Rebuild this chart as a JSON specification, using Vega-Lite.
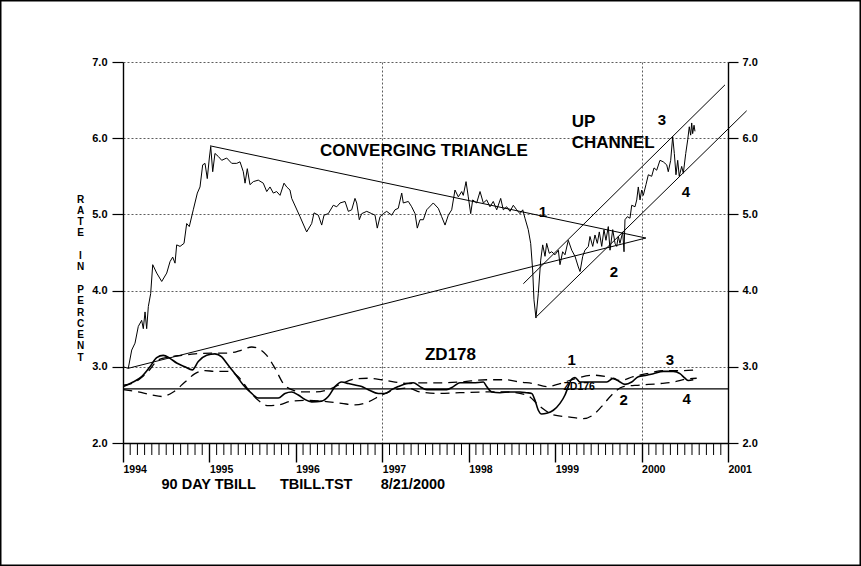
{
  "$schema": "https://vega.github.io/schema/vega-lite/v6.json",
  "width": 605,
  "height": 381,
  "autosize": {"type": "none"},
  "padding": {"left": 123, "top": 62, "right": 133, "bottom": 123},
  "background": "white",
  "config": {
    "view": {"stroke": null},
    "font": "Liberation Sans",
    "axis": {"labelFont": "Liberation Sans", "titleFont": "Liberation Sans", "labelColor": "black", "titleColor": "black", "tickColor": "black", "domainColor": "black"}
  },
  "datasets": {
    "price": [
      {"t":1994.003,"v":3.00},{"t":1994.061,"v":2.98},{"t":1994.101,"v":3.22},{"t":1994.139,"v":3.31},{"t":1994.177,"v":3.53},{"t":1994.216,"v":3.61},{"t":1994.235,"v":3.50},{"t":1994.255,"v":3.72},{"t":1994.274,"v":3.50},{"t":1994.293,"v":3.79},{"t":1994.320,"v":3.96},{"t":1994.344,"v":4.34},{"t":1994.390,"v":4.23},{"t":1994.448,"v":4.12},{"t":1994.506,"v":4.23},{"t":1994.544,"v":4.38},{"t":1994.575,"v":4.44},{"t":1994.602,"v":4.36},{"t":1994.621,"v":4.60},{"t":1994.660,"v":4.58},{"t":1994.706,"v":4.62},{"t":1994.737,"v":4.88},{"t":1994.767,"v":4.84},{"t":1994.813,"v":5.06},{"t":1994.860,"v":5.28},{"t":1994.891,"v":5.36},{"t":1994.922,"v":5.65},{"t":1994.949,"v":5.67},{"t":1994.975,"v":5.47},{"t":1994.999,"v":5.74},{"t":1995.015,"v":5.89},{"t":1995.038,"v":5.56},{"t":1995.064,"v":5.80},{"t":1995.103,"v":5.76},{"t":1995.142,"v":5.71},{"t":1995.200,"v":5.74},{"t":1995.258,"v":5.67},{"t":1995.316,"v":5.67},{"t":1995.354,"v":5.69},{"t":1995.392,"v":5.56},{"t":1995.412,"v":5.41},{"t":1995.438,"v":5.60},{"t":1995.469,"v":5.39},{"t":1995.508,"v":5.43},{"t":1995.565,"v":5.45},{"t":1995.623,"v":5.41},{"t":1995.663,"v":5.30},{"t":1995.701,"v":5.36},{"t":1995.739,"v":5.28},{"t":1995.778,"v":5.30},{"t":1995.817,"v":5.25},{"t":1995.863,"v":5.41},{"t":1995.894,"v":5.36},{"t":1995.932,"v":5.32},{"t":1995.952,"v":5.21},{"t":1996.048,"v":4.97},{"t":1996.125,"v":4.77},{"t":1996.183,"v":4.88},{"t":1996.210,"v":5.02},{"t":1996.260,"v":4.99},{"t":1996.299,"v":4.86},{"t":1996.326,"v":4.99},{"t":1996.375,"v":5.01},{"t":1996.433,"v":5.12},{"t":1996.473,"v":5.10},{"t":1996.511,"v":5.15},{"t":1996.569,"v":5.17},{"t":1996.607,"v":5.04},{"t":1996.646,"v":5.06},{"t":1996.684,"v":5.21},{"t":1996.704,"v":5.15},{"t":1996.734,"v":4.93},{"t":1996.762,"v":5.01},{"t":1996.820,"v":5.04},{"t":1996.878,"v":5.01},{"t":1996.916,"v":4.99},{"t":1996.942,"v":4.82},{"t":1996.974,"v":4.97},{"t":1997.012,"v":5.01},{"t":1997.051,"v":5.04},{"t":1997.109,"v":4.99},{"t":1997.147,"v":5.06},{"t":1997.185,"v":5.08},{"t":1997.225,"v":5.28},{"t":1997.243,"v":5.15},{"t":1997.301,"v":5.17},{"t":1997.340,"v":5.10},{"t":1997.379,"v":5.01},{"t":1997.405,"v":4.82},{"t":1997.436,"v":4.93},{"t":1997.475,"v":4.93},{"t":1997.514,"v":5.06},{"t":1997.590,"v":5.15},{"t":1997.648,"v":5.08},{"t":1997.687,"v":4.97},{"t":1997.726,"v":4.86},{"t":1997.764,"v":4.99},{"t":1997.803,"v":5.06},{"t":1997.841,"v":5.32},{"t":1997.880,"v":5.23},{"t":1997.919,"v":5.30},{"t":1997.937,"v":5.25},{"t":1997.969,"v":5.43},{"t":1997.995,"v":5.23},{"t":1998.023,"v":5.01},{"t":1998.046,"v":5.19},{"t":1998.092,"v":5.15},{"t":1998.131,"v":5.30},{"t":1998.169,"v":5.15},{"t":1998.208,"v":5.19},{"t":1998.246,"v":5.10},{"t":1998.284,"v":5.17},{"t":1998.324,"v":5.06},{"t":1998.370,"v":5.21},{"t":1998.400,"v":5.06},{"t":1998.439,"v":5.10},{"t":1998.478,"v":5.04},{"t":1998.516,"v":5.12},{"t":1998.555,"v":5.06},{"t":1998.593,"v":5.01},{"t":1998.625,"v":5.06},{"t":1998.651,"v":4.95},{"t":1998.689,"v":4.80},{"t":1998.717,"v":4.62},{"t":1998.740,"v":4.27},{"t":1998.755,"v":3.88},{"t":1998.778,"v":3.64},{"t":1998.805,"v":3.96},{"t":1998.833,"v":4.40},{"t":1998.856,"v":4.60},{"t":1998.883,"v":4.45},{"t":1998.902,"v":4.62},{"t":1998.932,"v":4.49},{"t":1998.960,"v":4.51},{"t":1998.998,"v":4.47},{"t":1999.037,"v":4.53},{"t":1999.056,"v":4.34},{"t":1999.087,"v":4.51},{"t":1999.114,"v":4.47},{"t":1999.152,"v":4.66},{"t":1999.192,"v":4.53},{"t":1999.230,"v":4.45},{"t":1999.268,"v":4.31},{"t":1999.288,"v":4.25},{"t":1999.319,"v":4.45},{"t":1999.345,"v":4.53},{"t":1999.384,"v":4.58},{"t":1999.403,"v":4.71},{"t":1999.435,"v":4.58},{"t":1999.461,"v":4.73},{"t":1999.488,"v":4.62},{"t":1999.511,"v":4.77},{"t":1999.539,"v":4.58},{"t":1999.565,"v":4.80},{"t":1999.588,"v":4.66},{"t":1999.615,"v":4.84},{"t":1999.635,"v":4.53},{"t":1999.666,"v":4.80},{"t":1999.693,"v":4.62},{"t":1999.712,"v":4.58},{"t":1999.731,"v":4.71},{"t":1999.750,"v":4.62},{"t":1999.782,"v":4.77},{"t":1999.797,"v":4.51},{"t":1999.808,"v":4.93},{"t":1999.835,"v":4.97},{"t":1999.866,"v":4.95},{"t":1999.886,"v":5.12},{"t":1999.924,"v":5.10},{"t":1999.944,"v":5.19},{"t":1999.962,"v":5.36},{"t":1999.982,"v":5.19},{"t":2000.001,"v":5.32},{"t":2000.020,"v":5.25},{"t":2000.051,"v":5.39},{"t":2000.078,"v":5.52},{"t":2000.117,"v":5.50},{"t":2000.144,"v":5.61},{"t":2000.175,"v":5.58},{"t":2000.213,"v":5.71},{"t":2000.251,"v":5.69},{"t":2000.291,"v":5.65},{"t":2000.309,"v":5.56},{"t":2000.337,"v":5.71},{"t":2000.360,"v":6.02},{"t":2000.379,"v":5.80},{"t":2000.398,"v":5.52},{"t":2000.418,"v":5.71},{"t":2000.436,"v":5.50},{"t":2000.464,"v":5.63},{"t":2000.483,"v":5.54},{"t":2000.511,"v":5.80},{"t":2000.534,"v":5.98},{"t":2000.552,"v":6.15},{"t":2000.568,"v":6.04},{"t":2000.580,"v":6.20},{"t":2000.591,"v":6.06},{"t":2000.607,"v":6.17},{"t":2000.618,"v":6.09}
    ],
    "osc": [
      {"t":1994.003,"v":2.74},{"t":1994.101,"v":2.79},{"t":1994.216,"v":2.87},{"t":1994.312,"v":3.00},{"t":1994.390,"v":3.12},{"t":1994.466,"v":3.15},{"t":1994.544,"v":3.11},{"t":1994.621,"v":3.05},{"t":1994.717,"v":3.00},{"t":1994.802,"v":2.96},{"t":1994.871,"v":3.07},{"t":1994.968,"v":3.15},{"t":1995.064,"v":3.17},{"t":1995.142,"v":3.13},{"t":1995.218,"v":3.02},{"t":1995.296,"v":2.91},{"t":1995.392,"v":2.76},{"t":1995.489,"v":2.65},{"t":1995.565,"v":2.59},{"t":1995.681,"v":2.59},{"t":1995.797,"v":2.59},{"t":1995.874,"v":2.65},{"t":1995.952,"v":2.67},{"t":1996.028,"v":2.63},{"t":1996.106,"v":2.57},{"t":1996.183,"v":2.54},{"t":1996.299,"v":2.55},{"t":1996.375,"v":2.61},{"t":1996.453,"v":2.74},{"t":1996.530,"v":2.80},{"t":1996.607,"v":2.78},{"t":1996.684,"v":2.76},{"t":1996.762,"v":2.74},{"t":1996.838,"v":2.70},{"t":1996.954,"v":2.65},{"t":1997.031,"v":2.65},{"t":1997.109,"v":2.70},{"t":1997.185,"v":2.74},{"t":1997.282,"v":2.78},{"t":1997.359,"v":2.79},{"t":1997.436,"v":2.74},{"t":1997.514,"v":2.70},{"t":1997.630,"v":2.70},{"t":1997.745,"v":2.70},{"t":1997.822,"v":2.74},{"t":1997.899,"v":2.79},{"t":1998.053,"v":2.79},{"t":1998.169,"v":2.80},{"t":1998.208,"v":2.74},{"t":1998.266,"v":2.67},{"t":1998.362,"v":2.66},{"t":1998.478,"v":2.67},{"t":1998.593,"v":2.67},{"t":1998.671,"v":2.66},{"t":1998.729,"v":2.65},{"t":1998.767,"v":2.56},{"t":1998.805,"v":2.43},{"t":1998.844,"v":2.38},{"t":1998.902,"v":2.39},{"t":1998.979,"v":2.43},{"t":1999.056,"v":2.52},{"t":1999.114,"v":2.63},{"t":1999.152,"v":2.74},{"t":1999.192,"v":2.84},{"t":1999.230,"v":2.86},{"t":1999.288,"v":2.80},{"t":1999.365,"v":2.80},{"t":1999.481,"v":2.80},{"t":1999.597,"v":2.80},{"t":1999.673,"v":2.85},{"t":1999.750,"v":2.80},{"t":1999.808,"v":2.77},{"t":1999.886,"v":2.80},{"t":1999.962,"v":2.87},{"t":2000.059,"v":2.89},{"t":2000.136,"v":2.91},{"t":2000.251,"v":2.94},{"t":2000.367,"v":2.94},{"t":2000.444,"v":2.91},{"t":2000.502,"v":2.85},{"t":2000.541,"v":2.82},{"t":2000.598,"v":2.83}
    ],
    "bands": [
      {"band":"upper","t":1994.003,"v":2.76},{"band":"upper","t":1994.139,"v":2.80},{"band":"upper","t":1994.293,"v":2.94},{"band":"upper","t":1994.408,"v":3.09},{"band":"upper","t":1994.544,"v":3.13},{"band":"upper","t":1994.679,"v":3.15},{"band":"upper","t":1994.833,"v":3.17},{"band":"upper","t":1995.026,"v":3.18},{"band":"upper","t":1995.218,"v":3.18},{"band":"upper","t":1995.373,"v":3.22},{"band":"upper","t":1995.489,"v":3.26},{"band":"upper","t":1995.565,"v":3.24},{"band":"upper","t":1995.663,"v":3.15},{"band":"upper","t":1995.759,"v":2.98},{"band":"upper","t":1995.855,"v":2.78},{"band":"upper","t":1995.952,"v":2.70},{"band":"upper","t":1996.068,"v":2.67},{"band":"upper","t":1996.221,"v":2.67},{"band":"upper","t":1996.375,"v":2.70},{"band":"upper","t":1996.530,"v":2.78},{"band":"upper","t":1996.684,"v":2.84},{"band":"upper","t":1996.838,"v":2.85},{"band":"upper","t":1996.993,"v":2.83},{"band":"upper","t":1997.147,"v":2.80},{"band":"upper","t":1997.301,"v":2.78},{"band":"upper","t":1997.436,"v":2.79},{"band":"upper","t":1997.668,"v":2.79},{"band":"upper","t":1997.899,"v":2.80},{"band":"upper","t":1998.208,"v":2.83},{"band":"upper","t":1998.439,"v":2.83},{"band":"upper","t":1998.593,"v":2.80},{"band":"upper","t":1998.747,"v":2.78},{"band":"upper","t":1998.902,"v":2.74},{"band":"upper","t":1999.056,"v":2.78},{"band":"upper","t":1999.249,"v":2.85},{"band":"upper","t":1999.441,"v":2.89},{"band":"upper","t":1999.597,"v":2.87},{"band":"upper","t":1999.750,"v":2.82},{"band":"upper","t":1999.904,"v":2.87},{"band":"upper","t":2000.059,"v":2.91},{"band":"upper","t":2000.251,"v":2.95},{"band":"upper","t":2000.444,"v":2.95},{"band":"upper","t":2000.638,"v":2.96},
      {"band":"lower","t":1994.003,"v":2.70},{"band":"lower","t":1994.177,"v":2.67},{"band":"lower","t":1994.332,"v":2.63},{"band":"lower","t":1994.448,"v":2.61},{"band":"lower","t":1994.582,"v":2.67},{"band":"lower","t":1994.717,"v":2.80},{"band":"lower","t":1994.833,"v":2.91},{"band":"lower","t":1994.949,"v":2.95},{"band":"lower","t":1995.064,"v":2.94},{"band":"lower","t":1995.218,"v":2.94},{"band":"lower","t":1995.334,"v":2.87},{"band":"lower","t":1995.450,"v":2.70},{"band":"lower","t":1995.565,"v":2.56},{"band":"lower","t":1995.681,"v":2.49},{"band":"lower","t":1995.797,"v":2.50},{"band":"lower","t":1995.952,"v":2.55},{"band":"lower","t":1996.106,"v":2.56},{"band":"lower","t":1996.299,"v":2.55},{"band":"lower","t":1996.530,"v":2.52},{"band":"lower","t":1996.684,"v":2.50},{"band":"lower","t":1996.838,"v":2.54},{"band":"lower","t":1996.993,"v":2.63},{"band":"lower","t":1997.147,"v":2.70},{"band":"lower","t":1997.301,"v":2.72},{"band":"lower","t":1997.436,"v":2.67},{"band":"lower","t":1997.668,"v":2.65},{"band":"lower","t":1997.899,"v":2.66},{"band":"lower","t":1998.208,"v":2.67},{"band":"lower","t":1998.439,"v":2.67},{"band":"lower","t":1998.671,"v":2.63},{"band":"lower","t":1998.825,"v":2.48},{"band":"lower","t":1998.979,"v":2.37},{"band":"lower","t":1999.172,"v":2.34},{"band":"lower","t":1999.326,"v":2.32},{"band":"lower","t":1999.441,"v":2.37},{"band":"lower","t":1999.539,"v":2.48},{"band":"lower","t":1999.654,"v":2.63},{"band":"lower","t":1999.789,"v":2.74},{"band":"lower","t":1999.982,"v":2.76},{"band":"lower","t":2000.213,"v":2.78},{"band":"lower","t":2000.367,"v":2.80},{"band":"lower","t":2000.522,"v":2.84},{"band":"lower","t":2000.638,"v":2.85}
    ],
    "trends": [
      {"line":"triangleTop","t":1995.007,"v":5.90},{"line":"triangleTop","t":2000.05,"v":4.69},
      {"line":"triangleBottom","t":1994.06,"v":2.98},{"line":"triangleBottom","t":2000.05,"v":4.69},
      {"line":"channelTop","t":1998.632,"v":4.09},{"line":"channelTop","t":2000.965,"v":6.70},
      {"line":"channelBottom","t":1998.786,"v":3.66},{"line":"channelBottom","t":2001.216,"v":6.36}
    ],
    "months": [
      {"m":1994.0833},{"m":1994.1667},{"m":1994.25},{"m":1994.3333},{"m":1994.4167},{"m":1994.5},{"m":1994.5833},{"m":1994.6667},{"m":1994.75},{"m":1994.8333},{"m":1994.9167},
      {"m":1995.0833},{"m":1995.1667},{"m":1995.25},{"m":1995.3333},{"m":1995.4167},{"m":1995.5},{"m":1995.5833},{"m":1995.6667},{"m":1995.75},{"m":1995.8333},{"m":1995.9167},
      {"m":1996.0833},{"m":1996.1667},{"m":1996.25},{"m":1996.3333},{"m":1996.4167},{"m":1996.5},{"m":1996.5833},{"m":1996.6667},{"m":1996.75},{"m":1996.8333},{"m":1996.9167},
      {"m":1997.0833},{"m":1997.1667},{"m":1997.25},{"m":1997.3333},{"m":1997.4167},{"m":1997.5},{"m":1997.5833},{"m":1997.6667},{"m":1997.75},{"m":1997.8333},{"m":1997.9167},
      {"m":1998.0833},{"m":1998.1667},{"m":1998.25},{"m":1998.3333},{"m":1998.4167},{"m":1998.5},{"m":1998.5833},{"m":1998.6667},{"m":1998.75},{"m":1998.8333},{"m":1998.9167},
      {"m":1999.0833},{"m":1999.1667},{"m":1999.25},{"m":1999.3333},{"m":1999.4167},{"m":1999.5},{"m":1999.5833},{"m":1999.6667},{"m":1999.75},{"m":1999.8333},{"m":1999.9167},
      {"m":2000.0833},{"m":2000.1667},{"m":2000.25},{"m":2000.3333},{"m":2000.4167},{"m":2000.5},{"m":2000.5833},{"m":2000.6667},{"m":2000.75},{"m":2000.8333},{"m":2000.9167}
    ],
    "level": [{"v": 2.71}],
    "bigText": [
      {"t":1996.279,"v":5.766,"label":"CONVERGING TRIANGLE"},
      {"t":1999.191,"v":6.147,"label":"UP"},
      {"t":1999.191,"v":5.871,"label":"CHANNEL"},
      {"t":1997.494,"v":3.089,"label":"ZD178"}
    ],
    "numbers": [
      {"t":1998.859,"v":4.97,"label":"1"},
      {"t":1999.681,"v":4.175,"label":"2"},
      {"t":2000.236,"v":6.173,"label":"3"},
      {"t":2000.514,"v":5.224,"label":"4"},
      {"t":1999.19,"v":3.024,"label":"1"},
      {"t":1999.793,"v":2.499,"label":"2"},
      {"t":2000.329,"v":3.024,"label":"3"},
      {"t":2000.522,"v":2.512,"label":"4"}
    ],
    "small": [{"t":1999.278,"v":2.696,"label":"ZD176"}]
  },
  "resolve": {"axis": {"x": "independent", "y": "independent"}},
  "layer": [
    {
      "data": {"name": "price"},
      "mark": {"type": "line", "color": "black", "strokeWidth": 1, "interpolate": "linear"},
      "encoding": {
        "x": {"field": "t", "type": "quantitative", "scale": {"domain": [1994, 2001], "nice": false, "zero": false},
          "axis": {"orient": "bottom", "values": [1994,1995,1996,1997,1998,1999,2000,2001], "format": "d", "tickSize": 19, "tickWidth": 1.4,
            "labelAlign": "left", "labelBaseline": "top", "labelPadding": 2, "labelDx": 1, "labelFontSize": 10.5, "labelFontWeight": "bold", "labelFlush": false, "labelOverlap": false, "labelBound": false,
            "domain": true, "domainWidth": 1.4, "grid": false,
            "title": "90 DAY TBILL\u00a0\u00a0\u00a0\u00a0\u00a0\u00a0TBILL.TST\u00a0\u00a0\u00a0\u00a0\u00a0\u00a0\u00a08/21/2000", "titleFontSize": 14.5, "titleFontWeight": "bold", "titleAnchor": "start", "titleAlign": "left", "titleX": 38, "titleY": 45, "titleBaseline": "alphabetic"}},
        "y": {"field": "v", "type": "quantitative", "scale": {"domain": [2, 7], "nice": false, "zero": false},
          "axis": {"orient": "left", "values": [2,3,4,5,6,7], "format": ".1f", "grid": true, "gridDash": [2,2], "gridColor": "#333", "gridWidth": 0.8,
            "tickSize": 11, "tickWidth": 1.2, "labelPadding": 5, "labelFontSize": 11, "labelFontWeight": "bold", "domain": true, "domainWidth": 1.4,
            "title": ["R","A","T","E","\u200b","I","N","\u200b","P","E","R","C","E","N","T"], "titleAngle": 0, "titleX": -43, "titleY": 132, "titleAlign": "center", "titleBaseline": "top", "titleLineHeight": 11.3, "titleFontSize": 10, "titleFontWeight": "bold"}}
      }
    },
    {
      "data": {"name": "osc"},
      "mark": {"type": "line", "color": "black", "strokeWidth": 1.6, "interpolate": "monotone"},
      "encoding": {
        "x": {"field": "t", "type": "quantitative", "scale": {"domain": [1994, 2001], "nice": false, "zero": false}, "axis": null},
        "y": {"field": "v", "type": "quantitative", "scale": {"domain": [2, 7], "nice": false, "zero": false},
          "axis": {"orient": "right", "values": [2,3,4,5,6,7], "format": ".1f", "grid": false, "tickSize": 10, "tickWidth": 1.2, "labelPadding": 4, "labelFontSize": 11, "labelFontWeight": "bold", "domain": true, "domainWidth": 1.4, "title": null}}
      }
    },
    {
      "data": {"name": "bands"},
      "mark": {"type": "line", "color": "black", "strokeWidth": 1.3, "strokeDash": [9, 6], "interpolate": "monotone"},
      "encoding": {
        "x": {"field": "t", "type": "quantitative", "scale": {"domain": [1994, 2001], "nice": false, "zero": false},
          "axis": {"orient": "bottom", "values": [1997, 2000], "grid": true, "gridDash": [2,2], "gridColor": "#333", "gridWidth": 0.8, "ticks": false, "labels": false, "domain": false, "title": null}},
        "y": {"field": "v", "type": "quantitative", "scale": {"domain": [2, 7], "nice": false, "zero": false}, "axis": null},
        "detail": {"field": "band", "type": "nominal"}
      }
    },
    {
      "data": {"name": "months"},
      "mark": {"type": "rule", "color": "black", "strokeWidth": 1, "clip": false},
      "encoding": {
        "x": {"field": "m", "type": "quantitative", "scale": {"domain": [1994, 2001], "nice": false, "zero": false}, "axis": null},
        "y": {"datum": 2, "type": "quantitative", "scale": {"domain": [2, 7], "nice": false, "zero": false}, "axis": null},
        "y2": {"datum": 1.8425}
      }
    },
    {
      "data": {"name": "trends"},
      "mark": {"type": "line", "color": "black", "strokeWidth": 1, "clip": false},
      "encoding": {
        "x": {"field": "t", "type": "quantitative", "scale": {"domain": [1994, 2001], "nice": false, "zero": false}, "axis": null},
        "y": {"field": "v", "type": "quantitative", "scale": {"domain": [2, 7], "nice": false, "zero": false}, "axis": null},
        "detail": {"field": "line", "type": "nominal"}
      }
    },
    {
      "data": {"name": "level"},
      "mark": {"type": "rule", "color": "black", "strokeWidth": 1.4},
      "encoding": {
        "y": {"field": "v", "type": "quantitative", "scale": {"domain": [2, 7], "nice": false, "zero": false}, "axis": null}
      }
    },
    {
      "data": {"values": [{}]},
      "mark": {"type": "rect", "filled": false, "stroke": "black", "strokeWidth": 1.5, "clip": false},
      "encoding": {
        "x": {"datum": 1992.5855, "type": "quantitative", "scale": {"domain": [1994, 2001], "nice": false, "zero": false}, "axis": null},
        "x2": {"datum": 2002.53},
        "y": {"datum": 7.8038, "type": "quantitative", "scale": {"domain": [2, 7], "nice": false, "zero": false}, "axis": null},
        "y2": {"datum": 0.3957}
      }
    },
    {
      "data": {"name": "bigText"},
      "mark": {"type": "text", "font": "Liberation Sans", "fontWeight": "bold", "fontSize": 17, "align": "left", "baseline": "alphabetic", "color": "black"},
      "encoding": {
        "x": {"field": "t", "type": "quantitative", "scale": {"domain": [1994, 2001], "nice": false, "zero": false}, "axis": null},
        "y": {"field": "v", "type": "quantitative", "scale": {"domain": [2, 7], "nice": false, "zero": false}, "axis": null},
        "text": {"field": "label"}
      }
    },
    {
      "data": {"name": "numbers"},
      "mark": {"type": "text", "font": "Liberation Sans", "fontWeight": "bold", "fontSize": 15, "align": "center", "baseline": "alphabetic", "color": "black"},
      "encoding": {
        "x": {"field": "t", "type": "quantitative", "scale": {"domain": [1994, 2001], "nice": false, "zero": false}, "axis": null},
        "y": {"field": "v", "type": "quantitative", "scale": {"domain": [2, 7], "nice": false, "zero": false}, "axis": null},
        "text": {"field": "label"}
      }
    },
    {
      "data": {"name": "small"},
      "mark": {"type": "text", "font": "Liberation Sans", "fontWeight": "bold", "fontSize": 10.5, "align": "center", "baseline": "alphabetic", "color": "black"},
      "encoding": {
        "x": {"field": "t", "type": "quantitative", "scale": {"domain": [1994, 2001], "nice": false, "zero": false}, "axis": null},
        "y": {"field": "v", "type": "quantitative", "scale": {"domain": [2, 7], "nice": false, "zero": false}, "axis": null},
        "text": {"field": "label"}
      }
    }
  ]
}
